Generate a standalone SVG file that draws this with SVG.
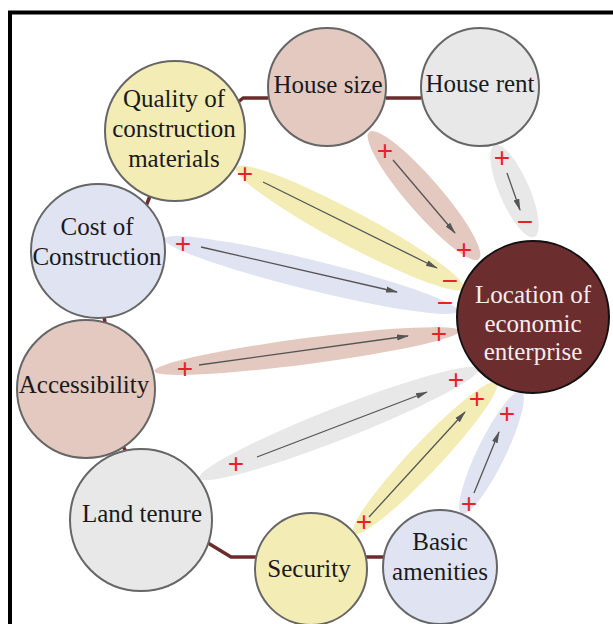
<svg xmlns="http://www.w3.org/2000/svg" width="613" height="624" viewBox="0 0 613 624">
<style>
.nd{stroke:#666;stroke-width:2}
.lbl{font-size:25px;fill:#1a1a1a;text-anchor:middle}
.lw{fill:#f6ecec}
.cn{fill:none;stroke:#6b2c2c;stroke-width:3.5;stroke-linejoin:round}
.ar{stroke:#555;stroke-width:1.3;marker-end:url(#ah)}
.sg{font-size:28px;fill:#e8202a;text-anchor:middle}
.br{fill:#e3c9bf}
.ye{fill:#f4ecb5}
.bl{fill:#dfe3f2}
.gr{fill:#e8e8e8}
</style>
<defs>
<marker id="ah" viewBox="0 0 12 8" refX="11" refY="4" markerWidth="12" markerHeight="8" markerUnits="userSpaceOnUse" orient="auto">
<path d="M0,1 L12,4 L0,7 Z" fill="#555"/>
</marker>
</defs>
<rect width="613" height="624" fill="#fff"/>
<path d="M10,624 V12.5 H613" fill="none" stroke="#000" stroke-width="4"/>

<g id="connectors" font-family="'Liberation Sans', Arial, sans-serif">
  <g id="link-housesize">
    <ellipse class="br" cx="424" cy="195.5" rx="84" ry="17" transform="rotate(49.2 424 195.5)"/>
    <line class="ar" x1="393" y1="160" x2="455" y2="233"/>
    <text class="sg" x="385" y="159.8">+</text>
    <text class="sg" x="464" y="258.8">+</text>
  </g>
  <g id="link-houserent">
    <ellipse class="gr" cx="514.5" cy="191" rx="50" ry="15" transform="rotate(66.6 514.5 191)"/>
    <line class="ar" x1="507" y1="173" x2="520" y2="210"/>
    <text class="sg" x="502" y="166.8">+</text>
    <text class="sg" x="525" y="231">−</text>
  </g>
  <g id="link-quality">
    <ellipse class="ye" cx="350" cy="228" rx="129" ry="17" transform="rotate(28 350 228)"/>
    <line class="ar" x1="263" y1="182" x2="437" y2="268"/>
    <text class="sg" x="245" y="182.8">+</text>
    <text class="sg" x="450" y="290">−</text>
  </g>
  <g id="link-cost">
    <ellipse class="bl" cx="311" cy="275" rx="151" ry="15" transform="rotate(13.85 311 275)"/>
    <line class="ar" x1="201" y1="247" x2="397" y2="292"/>
    <text class="sg" x="183" y="252.8">+</text>
    <text class="sg" x="445" y="312">−</text>
  </g>
  <g id="link-access">
    <ellipse class="br" cx="307" cy="351" rx="154" ry="13" transform="rotate(-7.5 307 351)"/>
    <line class="ar" x1="199" y1="365" x2="408" y2="336"/>
    <text class="sg" x="185" y="377.8">+</text>
    <text class="sg" x="439" y="342.8">+</text>
  </g>
  <g id="link-land">
    <ellipse class="gr" cx="339" cy="423.5" rx="150" ry="16" transform="rotate(-21.4 339 423.5)"/>
    <line class="ar" x1="257" y1="457" x2="427" y2="392"/>
    <text class="sg" x="236" y="472.8">+</text>
    <text class="sg" x="456" y="388.8">+</text>
  </g>
  <g id="link-security">
    <ellipse class="ye" cx="425" cy="458" rx="104" ry="15" transform="rotate(-46.6 425 458)"/>
    <line class="ar" x1="369" y1="517" x2="465" y2="412"/>
    <text class="sg" x="364" y="530.8">+</text>
    <text class="sg" x="477" y="407.8">+</text>
  </g>
  <g id="link-amenities">
    <ellipse class="bl" cx="491.5" cy="452.5" rx="68" ry="14" transform="rotate(-64 491.5 452.5)"/>
    <line class="ar" x1="474" y1="493" x2="499" y2="432"/>
    <text class="sg" x="469" y="512.8">+</text>
    <text class="sg" x="507" y="422.8">+</text>
  </g>
  <polyline class="cn" points="237,103 243,98 268,98"/>
  <line class="cn" x1="386" y1="98" x2="421" y2="98"/>
  <line class="cn" x1="150" y1="196" x2="146" y2="206"/>
  <line class="cn" x1="104" y1="316" x2="105" y2="323"/>
  <line class="cn" x1="123" y1="446" x2="127" y2="454"/>
  <polyline class="cn" points="208,543 231,557 257,557"/>
  <line class="cn" x1="366" y1="557" x2="384" y2="557"/>
</g>

<g id="nodes" font-family="'Liberation Serif', 'Times New Roman', 'DejaVu Serif', serif">
<g id="house-size">
  <circle class="nd br" cx="327" cy="87" r="59"/>
  <text class="lbl" x="328" y="93">House size</text>
</g>
<g id="house-rent">
  <circle class="nd gr" cx="480" cy="87" r="59"/>
  <text class="lbl" x="480" y="92">House rent</text>
</g>
<g id="quality">
  <circle class="nd ye" cx="175" cy="131" r="70"/>
  <text class="lbl" x="174" y="107">Quality of</text>
  <text class="lbl" x="174" y="137">construction</text>
  <text class="lbl" x="174" y="167">materials</text>
</g>
<g id="cost">
  <circle class="nd bl" cx="98" cy="251" r="67"/>
  <text class="lbl" x="97" y="235">Cost of</text>
  <text class="lbl" x="97" y="265">Construction</text>
</g>
<g id="accessibility">
  <circle class="nd br" cx="86" cy="389" r="69"/>
  <text class="lbl" x="84" y="393">Accessibility</text>
</g>
<g id="land-tenure">
  <circle class="nd gr" cx="141" cy="520" r="71"/>
  <text class="lbl" x="142" y="522">Land tenure</text>
</g>
<g id="security">
  <circle class="nd ye" cx="311" cy="569" r="56"/>
  <text class="lbl" x="309" y="577">Security</text>
</g>
<g id="basic-amenities">
  <circle class="nd bl" cx="440" cy="567" r="57"/>
  <text class="lbl" x="440" y="550">Basic</text>
  <text class="lbl" x="440" y="580">amenities</text>
</g>
<g id="location">
  <circle cx="533" cy="317" r="76" fill="#6b2d2d" stroke="#111" stroke-width="2"/>
  <text class="lbl lw" x="533" y="303">Location of</text>
  <text class="lbl lw" x="533" y="332">economic</text>
  <text class="lbl lw" x="533" y="360">enterprise</text>
</g>
</g>
</svg>
